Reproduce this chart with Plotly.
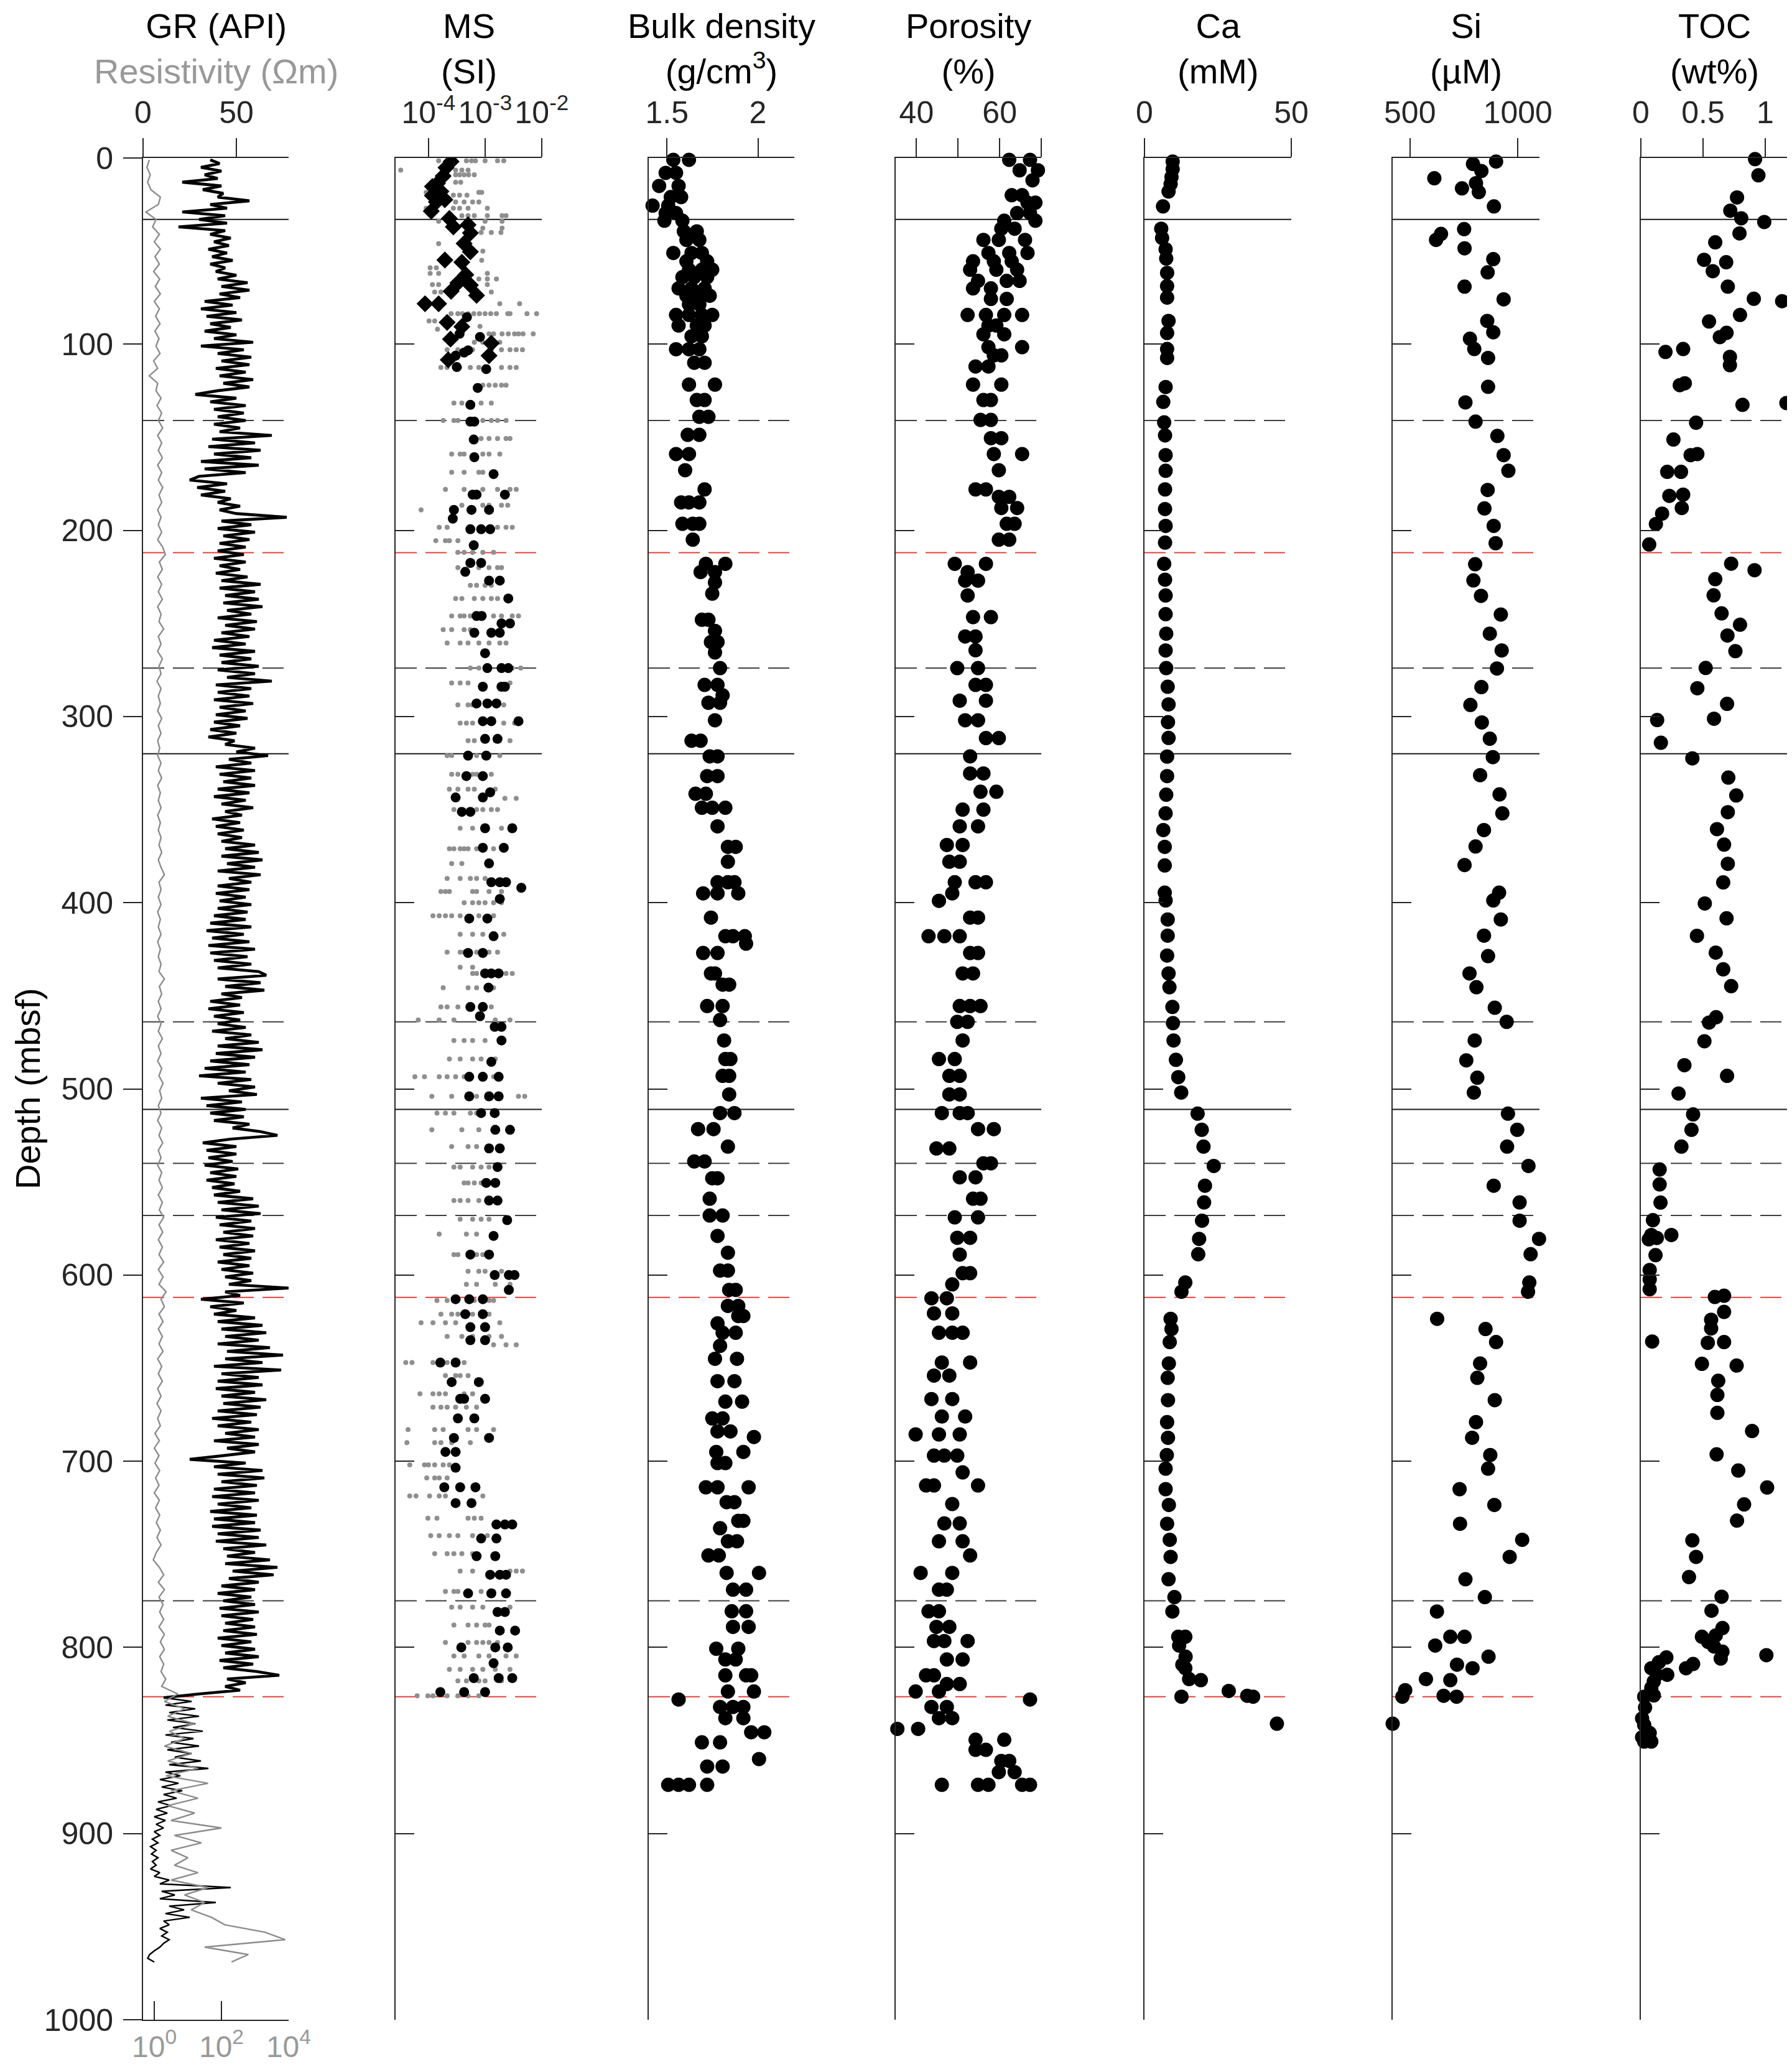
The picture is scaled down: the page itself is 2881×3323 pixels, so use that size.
import plotly.graph_objects as go

W, H = 2881, 3323
FONT = "Liberation Sans, Arial, Helvetica, sans-serif"
INK = "#262626"
GREY_TXT = "#999999"

# ---------------- data ----------------
depth_ticks = [0, 100, 200, 300, 400, 500, 600, 700, 800, 900, 1000]

# boundary lines (m)
solid_lines = [33, 320, 511]
dash_lines = [141, 274, 464, 540, 568, 775]
red_lines = [212, 612, 826.5]

# GR log (API), sampled every 2 m from 1 m
gr_depth = list(range(1, 970, 2))
gr_api = [
    36, 41, 31, 42, 33, 40, 21, 42, 32, 43, 40, 57, 36, 45, 21,
    44, 30, 45, 19, 44, 36, 47, 38, 46, 35, 45, 37, 48, 36, 44,
    39, 50, 40, 56, 42, 57, 41, 52, 33, 48, 31, 50, 34, 53, 36,
    47, 33, 50, 38, 59, 31, 54, 40, 58, 42, 57, 39, 55, 41, 59,
    43, 57, 40, 28, 50, 36, 55, 38, 54, 40, 55, 38, 52, 41, 69,
    37, 60, 35, 63, 38, 58, 31, 62, 33, 55, 30, 25, 45, 29, 44,
    31, 47, 40, 52, 41, 50, 77, 42, 58, 40, 60, 43, 57, 41, 55,
    40, 54, 38, 55, 41, 52, 39, 56, 42, 63, 41, 60, 44, 62, 43,
    64, 45, 58, 40, 61, 44, 60, 42, 57, 38, 55, 37, 60, 41, 58,
    42, 62, 40, 60, 45, 69, 39, 58, 40, 57, 38, 59, 41, 55, 39,
    56, 38, 52, 36, 50, 35, 49, 44, 60, 50, 67, 46, 58, 39, 60,
    41, 58, 43, 60, 40, 57, 38, 55, 42, 59, 44, 53, 37, 52, 39,
    54, 40, 53, 42, 60, 44, 62, 42, 64, 45, 60, 40, 63, 46, 58,
    40, 57, 39, 55, 41, 58, 40, 56, 38, 55, 36, 58, 34, 54, 37,
    57, 35, 60, 36, 56, 38, 58, 40, 62, 66, 40, 63, 44, 65, 42,
    53, 36, 52, 35, 54, 38, 52, 40, 55, 37, 58, 44, 62, 40, 64,
    39, 60, 36, 57, 33, 55, 30, 58, 40, 60, 46, 61, 31, 53, 34,
    55, 36, 54, 38, 57, 48, 63, 72, 47, 32, 50, 34, 50, 35, 48,
    33, 51, 36, 50, 34, 49, 37, 52, 38, 59, 40, 62, 42, 63, 39,
    58, 41, 60, 43, 59, 39, 57, 41, 60, 43, 58, 40, 57, 42, 59,
    44, 58, 46, 78, 44, 52, 31, 54, 36, 50, 38, 60, 40, 64, 42,
    66, 44, 62, 40, 68, 45, 75, 44, 64, 38, 74, 42, 62, 40, 64,
    39, 60, 42, 66, 43, 63, 40, 61, 37, 58, 40, 62, 44, 60, 38,
    62, 45, 60, 43, 25, 55, 38, 64, 40, 65, 42, 61, 38, 60, 37,
    62, 40, 58, 36, 61, 38, 60, 37, 63, 40, 62, 39, 66, 43, 60,
    45, 68, 44, 72, 48, 70, 46, 62, 42, 60, 40, 58, 43, 60, 41,
    62, 42, 59, 44, 60, 43, 61, 40, 58, 42, 60, 44, 62, 41, 59,
    43, 61, 73, 45, 55, 44, 52, 30, 11, 26, 12, 28, 14, 30, 13,
    28, 16, 32, 12, 27, 15, 30, 13, 26, 17, 31, 14, 35, 12, 20,
    9, 19, 10, 21, 11, 18, 8, 15, 7, 13, 6, 12, 7, 11, 6,
    9, 5, 8, 4, 7, 4.5, 8, 5, 7, 4, 9, 6, 14, 9, 47,
    10, 17, 9, 39, 14, 22, 12, 25, 11, 14, 9, 13, 10, 14, 11,
    9, 6, 3.5, 2.5, 6,
]
gr_lith_change_depth = 825  # base of the dense upper log section

# Resistivity log10(Ohm m), sampled every 4 m from 1 m
res_depth = list(range(1, 970, 4))
res_log10 = [
    -0.15, -0.22, -0.12, -0.20, -0.10, 0.18, 0.12, -0.25, 0.05, -0.05,
    0.15, 0.00, 0.18, 0.02, 0.15, -0.02, 0.16, 0.03, 0.18, 0.00,
    0.15, 0.04, 0.17, 0.02, 0.14, 0.05, 0.17, -0.02, 0.10, -0.15,
    0.10, 0.05, 0.20, 0.08, 0.22, 0.12, 0.25, 0.10, 0.22, 0.12,
    0.24, 0.10, 0.22, 0.12, 0.25, 0.14, 0.22, 0.10, 0.20, 0.12,
    0.22, 0.10, 0.25, 0.33, 0.15, 0.24, 0.10, 0.22, 0.12, 0.24,
    0.10, 0.20, 0.14, 0.28, 0.12, 0.20, 0.10, 0.24, 0.14, 0.20,
    0.08, 0.20, 0.12, 0.18, 0.10, 0.22, 0.12, 0.20, 0.10, 0.16,
    0.10, 0.20, 0.12, 0.22, 0.10, 0.18, 0.12, 0.20, 0.10, 0.18,
    0.12, 0.20, 0.14, 0.22, 0.12, 0.20, 0.30, 0.14, 0.20, 0.12,
    0.20, 0.10, 0.18, 0.12, 0.20, 0.10, 0.18, 0.12, 0.20, 0.14,
    0.30, 0.15, 0.22, 0.12, 0.20, 0.10, 0.20, 0.12, 0.24, 0.12,
    0.20, 0.10, 0.22, 0.14, 0.26, 0.16, 0.22, 0.12, 0.20, 0.10,
    0.22, 0.14, 0.25, 0.12, 0.20, 0.10, 0.22, 0.14, 0.24, 0.12,
    0.24, 0.15, 0.28, 0.14, 0.25, 0.12, 0.24, 0.14, 0.28, 0.12,
    0.26, 0.14, 0.35, 0.20, 0.30, 0.14, 0.26, 0.12, 0.24, 0.14,
    0.26, 0.10, 0.22, 0.12, 0.24, 0.10, 0.20, 0.08, 0.20, 0.10,
    0.18, 0.02, 0.15, 0.00, 0.14, 0.02, 0.16, 0.04, 0.14, 0.00,
    0.15, 0.04, 0.16, 0.06, 0.18, 0.08, 0.20, 0.06, -0.03, 0.15,
    0.28, 0.12, 0.30, 0.14, 0.26, 0.16, 0.28, 0.14, 0.30, 0.18,
    0.30, 0.16, 0.28, 0.20, 0.34, 0.22, 0.70, 0.30, 0.90, 0.40,
    1.20, 0.45, 0.90, 0.30, 1.10, 0.40, 1.30, 0.35, 1.60, 0.50,
    1.30, 0.40, 1.20, 0.50, 2.00, 0.60, 1.40, 0.50, 1.00, 0.60,
    1.30, 0.50, 1.60, 0.90, 1.50, 1.10, 1.70, 2.10, 3.30, 3.90,
    1.50, 2.80, 2.30,
]

# MS discrete samples: (depth m, log10 SI)
ms_diamonds = [
    (1.9, -3.60), (5.2, -3.69), (9.7, -3.74), (13.6, -3.84), (15.3, -3.93), (18, -3.78),
    (20.2, -3.93), (22.4, -3.71), (23.6, -3.86), (28.6, -3.95), (32.5, -3.63), (37, -3.56),
    (35.9, -3.30), (40.3, -3.26), (45.9, -3.37), (50.4, -3.26), (54.8, -3.71), (56, -3.41),
    (62.7, -3.34), (67.1, -3.48), (68.3, -3.26), (73.8, -3.15), (71.6, -3.60), (78.3, -4.06),
    (78.3, -3.82), (88.3, -3.67), (90.6, -3.41), (97.3, -3.61), (99.5, -2.89), (106.2, -2.93),
    (108.4, -3.65),
]
ms_circles = [
    (85.5, -3.32), (94.4, -3.45), (96.1, -3.09), (103.3, -3.30), (104.5, -3.37), (106.2, -3.52),
    (112.3, -3.50), (113.4, -2.98), (123.5, -3.13), (132.6, -3.26), (141.6, -3.26), (141.6, -3.19),
    (151.2, -3.20), (160.7, -3.19), (169.8, -2.85), (180.8, -3.22), (180.8, -3.15), (180.8, -2.65),
    (189, -3.55), (189, -3.24), (189, -2.93), (193.7, -3.57), (199.4, -3.26), (199.4, -3.07),
    (199.4, -2.91), (208, -3.20), (217.5, -3.26), (217.5, -3.07), (222.3, -3.35), (227, -2.93),
    (227, -2.74), (236.6, -2.59), (246, -3.15), (246, -3.06), (250, -2.71), (250, -2.56),
    (255, -3.19), (255, -2.89), (255, -2.74), (266, -3.00), (274, -2.96), (274, -2.71),
    (274, -2.59), (284, -3.04), (284, -2.71), (284, -2.65), (293, -3.15), (293, -2.96),
    (293, -2.80), (302.5, -3.04), (302.5, -2.89), (302.5, -2.41), (312, -3.00), (312, -2.78),
    (321, -3.30), (321, -2.98), (332, -3.33), (332, -3.04), (340.7, -2.91), (343.5, -3.52),
    (343.5, -3.04), (351.2, -3.41), (351.2, -3.26), (360, -3.00), (360, -2.52), (370.5, -2.67),
    (370.5, -3.04), (378.9, -2.93), (389, -2.89), (389, -2.74), (389, -2.63), (392, -2.36),
    (398, -2.74), (408.5, -3.28), (408.5, -2.96), (418, -2.85), (427, -3.30), (427, -3.04),
    (438, -3.00), (438, -2.89), (438, -2.76), (445.6, -2.94), (456, -3.26), (456, -3.04),
    (461, -3.09), (466.7, -2.83), (466.7, -2.71), (474, -2.71), (485.5, -2.89), (493.5, -3.28),
    (493.5, -3.04), (493.5, -2.76), (504, -3.28), (504, -2.93), (504, -2.76), (513, -3.07),
    (513, -2.83), (522, -2.82), (522, -2.56), (532, -2.93), (532, -2.74), (542, -2.78),
    (550.5, -2.98), (550.5, -2.82), (560, -2.93), (560, -2.78), (570.5, -2.61), (579, -2.85),
    (589, -3.26), (589, -2.93), (600, -2.83), (600, -2.58), (600, -2.48), (608, -2.58),
    (613, -3.52), (613, -3.28), (613, -3.04), (621, -3.35), (621, -3.04), (628, -3.26),
    (628, -3.00), (635, -3.26), (635, -3.00), (647, -3.79), (647, -3.52), (657.5, -3.59),
    (657.5, -3.11), (666.5, -3.44), (666.5, -3.37), (666.5, -3.00), (677, -3.48), (677, -3.19),
    (687.5, -3.55), (687.5, -2.93), (695, -3.70), (695, -3.52), (703.5, -3.52), (714, -3.72),
    (714, -3.44), (714, -3.17), (722.5, -3.52), (722.5, -3.24), (734, -2.80), (734, -2.65),
    (734, -2.52), (741.5, -3.07), (741.5, -2.80), (751, -3.15), (751, -2.82), (761, -2.91),
    (761, -2.74), (761, -2.63), (771, -3.30), (771, -2.89), (771, -2.63), (781, -2.78),
    (781, -2.65), (791, -2.74), (791, -2.47), (800, -3.42), (800, -2.82), (800, -2.60),
    (808.5, -2.85), (816.5, -3.20), (816.5, -2.52), (816.5, -2.76), (824, -3.79), (824, -3.37),
    (824, -3.00),
]
# MS high-resolution (grey) rows: (depth m, [log10 SI values])
ms_grey_rows = [
    (1.5, [-3.82, -3.56, -3.33, -3.24, -3.17, -3.00, -2.78, -2.67]),
    (6.5, [-4.49, -3.52, -3.41, -3.30]),
    (9, [-3.52, -3.45, -3.37, -3.29, -3.19]),
    (13, [-3.52, -3.43]),
    (18.5, [-4.04, -3.11, -3.06]),
    (20, [-3.56, -3.45, -3.32]),
    (23.6, [-3.52, -3.37, -3.22, -3.11]),
    (27, [-4.04, -3.56, -3.45, -3.30, -2.96]),
    (31, [-3.41, -3.30, -3.19, -2.96, -2.70, -2.63]),
    (34, [-3.82, -3.00, -2.70]),
    (37.7, [-3.04, -2.70]),
    (40, [-3.07, -2.89, -2.72]),
    (46, [-3.82]),
    (50, [-3.33, -3.19, -3.04]),
    (55, [-3.06]),
    (59, [-3.97, -3.86]),
    (62, [-3.97, -3.82, -2.96]),
    (65, [-3.11, -2.96, -2.80]),
    (68, [-3.93, -3.82, -2.96]),
    (72, [-3.89, -3.78, -2.89]),
    (78.3, [-4.00, -3.84, -2.74, -2.39]),
    (83.6, [-3.60, -3.48, -3.40, -3.30, -3.20, -3.10, -3.00, -2.90, -2.80, -2.60, -2.56, -2.26, -2.09]),
    (87.5, [-3.99, -3.89]),
    (90.5, [-3.09]),
    (92, [-3.84]),
    (94.5, [-2.93, -2.85, -2.70, -2.59, -2.48, -2.41, -2.33, -2.15]),
    (99, [-3.19, -3.04, -2.89, -2.74]),
    (103, [-3.67, -3.48, -3.22, -2.89, -2.71, -2.56, -2.45, -2.34]),
    (112.5, [-3.78, -3.67, -3.45, -3.26, -3.11, -2.71, -2.56, -2.45]),
    (122, [-3.04, -2.93, -2.82, -2.71, -2.63]),
    (131.6, [-3.55, -3.41, -3.07, -2.89]),
    (141, [-3.74, -3.55, -3.48, -3.04, -2.89, -2.78, -2.63]),
    (150.7, [-3.07, -2.93, -2.78, -2.63, -2.56]),
    (159, [-3.59, -3.44, -3.37, -3.04, -2.93, -2.74]),
    (168.8, [-3.59, -3.37, -3.11, -3.04]),
    (178, [-3.70, -3.37, -3.04, -2.78, -2.56, -2.45]),
    (186.5, [-3.41, -3.04, -2.93, -2.71, -2.60]),
    (189, [-4.13]),
    (198.4, [-3.81, -3.67, -2.78, -2.63, -2.52]),
    (205.6, [-3.87, -3.70, -3.63, -3.48]),
    (211.8, [-3.48, -3.37, -3.22, -3.04, -2.85]),
    (220, [-3.48, -3.11, -2.93, -2.78, -2.71]),
    (229.5, [-3.26, -3.15, -3.00, -2.89]),
    (236.6, [-3.52, -3.41, -3.19, -3.04, -2.89, -2.78]),
    (246, [-3.59, -3.44, -3.37, -3.26, -2.85, -2.71, -2.52, -2.41]),
    (253.3, [-3.74, -3.59, -3.37, -3.26]),
    (260.5, [-3.67, -3.44, -3.30, -3.11, -2.93, -2.74, -2.63]),
    (274, [-3.26, -3.11, -2.52, -2.37]),
    (282, [-3.59, -3.44, -3.30, -2.56]),
    (293.8, [-3.48, -3.30, -3.22, -2.67]),
    (303.5, [-3.44, -3.33, -3.22, -2.67, -2.48]),
    (313, [-3.30, -3.19, -2.82, -2.56]),
    (321, [-3.67, -3.59, -3.15, -2.93, -2.74]),
    (331, [-3.59, -3.48, -3.22, -3.15, -2.89]),
    (339, [-3.63, -3.48, -3.30, -3.19, -2.82]),
    (344, [-2.65, -2.45]),
    (350, [-3.55, -3.44, -3.15, -3.04, -2.89, -2.78]),
    (360, [-3.44, -3.22, -3.04, -2.71]),
    (371, [-3.63, -3.55, -3.44, -3.37, -3.30, -3.15, -2.85]),
    (379, [-3.59, -3.41]),
    (387, [-3.67, -3.44, -3.26, -3.15, -3.00]),
    (394, [-3.78, -3.70, -3.63, -3.22, -3.15, -2.93, -2.71]),
    (400, [-3.37, -3.22, -3.11, -3.00, -2.85, -2.71]),
    (407, [-3.92, -3.81, -3.70, -3.59, -3.44, -3.11, -2.85]),
    (417, [-3.44, -3.22, -3.04, -2.85, -2.67]),
    (426.6, [-3.67, -3.44, -3.37, -3.15, -2.93, -2.78]),
    (434.7, [-3.44, -3.22]),
    (438, [-3.22, -3.15, -2.63, -2.52]),
    (445.7, [-3.74, -3.30, -3.15, -2.85]),
    (456, [-3.78, -3.67, -3.48, -3.00, -2.89]),
    (463, [-4.18, -3.81, -3.55, -2.82, -2.56]),
    (474, [-3.55, -3.37, -3.22, -3.00]),
    (484, [-3.63, -3.44, -3.22, -3.07, -2.82]),
    (493.5, [-4.24, -4.07, -3.81, -3.67, -3.52, -3.37, -2.85]),
    (504, [-3.94, -3.59, -3.15, -2.41, -2.30]),
    (513, [-3.85, -3.70, -3.55, -3.26, -3.15]),
    (522, [-3.94, -3.41, -3.11]),
    (531, [-3.59, -3.30, -3.15]),
    (542, [-3.55, -3.44, -3.22, -3.07, -2.93]),
    (550.5, [-3.37, -3.30, -3.19, -3.07]),
    (560, [-3.55, -3.44, -3.30, -3.11]),
    (570, [-3.44, -3.22, -3.07, -2.93]),
    (578, [-3.81, -3.33, -3.15]),
    (589, [-3.55, -3.48, -3.15, -3.04, -2.93]),
    (598, [-3.30, -3.11, -3.00, -2.71]),
    (605, [-3.33, -3.15, -2.82, -2.56]),
    (613.7, [-3.85, -3.67, -3.19, -2.93, -2.85]),
    (621, [-3.78, -3.59, -3.48, -3.22, -2.93]),
    (625.6, [-4.13, -3.92, -3.70, -3.52, -2.74]),
    (633, [-3.67, -3.41, -3.22, -2.93, -2.71]),
    (637.5, [-2.85, -2.63, -2.45]),
    (647, [-4.40, -4.29, -3.92, -3.67, -3.37]),
    (654, [-3.70, -3.52, -3.44, -3.30]),
    (663.8, [-4.15, -3.92, -3.81, -3.70, -3.37, -3.22]),
    (671, [-3.92, -3.78, -3.67, -3.52, -3.33, -3.15]),
    (683, [-4.36, -3.89, -3.74, -3.30, -3.15, -2.85]),
    (690, [-4.38, -3.89, -3.78, -3.59, -3.26]),
    (702, [-4.33, -4.07, -4.00, -3.89, -3.74, -3.63]),
    (709, [-4.03, -3.89, -3.81, -3.67]),
    (718.7, [-4.33, -4.22, -3.98, -3.81, -3.70, -3.04]),
    (730.6, [-4.01, -3.85, -3.30, -3.19, -3.07]),
    (740, [-3.96, -3.81, -3.63, -3.48, -3.22, -2.96]),
    (749.7, [-3.89, -3.67, -3.55, -3.41, -3.22]),
    (759, [-3.44, -3.22, -2.56, -2.45, -2.34]),
    (770, [-3.70, -3.55, -3.48, -3.07, -2.85]),
    (778.4, [-3.59, -3.44, -3.22, -3.04, -2.56]),
    (788, [-3.55, -3.30, -3.15, -3.00, -2.93]),
    (797.4, [-3.70, -3.30, -3.15, -3.04, -2.93, -2.78]),
    (804.6, [-3.55, -3.37, -3.11, -2.93, -2.63, -2.45]),
    (811.8, [-3.63, -3.44, -3.22, -3.04, -2.82, -2.56]),
    (818, [-3.48, -3.33, -3.11, -3.00, -2.71]),
    (826, [-4.20, -4.01, -3.92, -3.67, -3.48, -3.30, -3.11]),
]

# Bulk density (depth m, g/cm3)
bulk_density = [
    (1, 1.535), (1, 1.621), (8, 1.493), (8, 1.550), (15, 1.457), (15, 1.564), (21, 1.521), (21, 1.578),
    (25.6, 1.421), (25.6, 1.507), (29.6, 1.493), (29.6, 1.550), (33.7, 1.486), (33.7, 1.585),
    (39.4, 1.593), (39.4, 1.664), (44, 1.607), (44, 1.678), (51, 1.535), (51, 1.635), (51, 1.692),
    (55.5, 1.607), (55.5, 1.721), (60, 1.621), (60, 1.692), (60, 1.749), (64, 1.585), (64, 1.650),
    (64, 1.721), (70, 1.564), (70, 1.635), (70, 1.707), (74, 1.607), (74, 1.678), (74, 1.735),
    (78.6, 1.621), (78.6, 1.678), (84.3, 1.550), (84.3, 1.621), (84.3, 1.692), (84.3, 1.749),
    (90, 1.564), (90, 1.664), (90, 1.707), (95.8, 1.635), (95.8, 1.692), (102.7, 1.550),
    (102.7, 1.621), (102.7, 1.678), (110, 1.650), (110, 1.707), (121.7, 1.621), (121.7, 1.764),
    (130, 1.664), (130, 1.707), (139, 1.678), (139, 1.728), (148.7, 1.614), (148.7, 1.678),
    (159, 1.550), (159, 1.621), (167.7, 1.600), (178, 1.707), (185, 1.578), (185, 1.621),
    (185, 1.678), (196.5, 1.585), (196.5, 1.642), (196.5, 1.678), (205, 1.642), (218, 1.714),
    (218, 1.821), (222.4, 1.685), (222.4, 1.764), (228, 1.764), (234, 1.749), (248, 1.692),
    (248, 1.728), (254, 1.764), (260, 1.742), (260, 1.778), (265.6, 1.764), (274, 1.792),
    (283, 1.707), (283, 1.778), (288.6, 1.806), (292.6, 1.728), (292.6, 1.792), (302, 1.764),
    (313, 1.635), (313, 1.685), (321.4, 1.735), (321.4, 1.778), (332, 1.721), (332, 1.778),
    (341.5, 1.657), (341.5, 1.714), (349, 1.692), (349, 1.749), (349, 1.821), (359, 1.778),
    (370, 1.835), (370, 1.878), (378, 1.835), (389, 1.778), (389, 1.835), (389, 1.871),
    (395, 1.699), (395, 1.778), (395, 1.892), (408, 1.742), (418, 1.821), (418, 1.863),
    (418, 1.928), (422, 1.935), (427, 1.699), (427, 1.778), (438, 1.742), (438, 1.764),
    (444, 1.806), (444, 1.842), (455.5, 1.721), (455.5, 1.806), (463, 1.792), (474, 1.814),
    (484, 1.821), (484, 1.849), (493, 1.806), (493, 1.842), (503, 1.842), (513, 1.792),
    (513, 1.871), (521.6, 1.671), (521.6, 1.756), (531, 1.835), (539, 1.650), (539, 1.707),
    (548, 1.749), (548, 1.778), (559, 1.735), (568, 1.735), (568, 1.806), (579, 1.778),
    (588, 1.835), (597.6, 1.792), (597.6, 1.835), (608, 1.842), (608, 1.878), (616.6, 1.835),
    (616.6, 1.892), (622, 1.892), (622, 1.920), (626, 1.778), (631, 1.806), (631, 1.878),
    (638, 1.792), (645, 1.764), (645, 1.885), (657, 1.778), (657, 1.871), (668, 1.821),
    (668, 1.913), (677, 1.749), (677, 1.806), (684, 1.778), (684, 1.849), (687, 1.978),
    (695, 1.771), (695, 1.920), (701, 1.778), (701, 1.821), (714, 1.714), (714, 1.778),
    (714, 1.949), (722, 1.828), (722, 1.871), (732, 1.892), (732, 1.920), (736, 1.792),
    (743, 1.835), (743, 1.885), (750.6, 1.728), (750.6, 1.785), (760, 2.006), (760, 1.828),
    (769, 1.863), (769, 1.935), (780.6, 1.856), (780.6, 1.935), (789, 1.863), (789, 1.949),
    (800.7, 1.771), (800.7, 1.892), (806.5, 1.821), (806.5, 1.878), (815, 1.821), (815, 1.935),
    (815, 1.963), (823.7, 1.835), (823.7, 1.978), (828, 1.564), (832, 1.792), (832, 1.863),
    (832, 1.920), (838, 1.821), (838, 1.920), (845.6, 1.963), (845.6, 2.035), (851, 1.692),
    (851, 1.792), (860, 2.006), (864, 1.721), (864, 1.806), (873.8, 1.507), (873.8, 1.564),
    (873.8, 1.621), (873.8, 1.721),
]

# Porosity (depth m, %)
porosity = [
    (1, 62.3), (1, 67.3), (6.6, 64.8), (6.6, 69.2), (12, 67.9), (20, 62.9), (20, 65.4),
    (24, 66.7), (24, 68.6), (29.6, 64.2), (29.6, 67.3), (33.7, 61.1), (33.7, 68.6), (38, 60.4),
    (38, 63.6), (44, 56.1), (44, 59.8), (44, 66.1), (51, 57.3), (51, 62.3), (51, 66.7),
    (55.5, 53.6), (55.5, 58.6), (55.5, 62.9), (60, 52.9), (60, 59.2), (60, 64.2), (66, 54.8),
    (66, 61.7), (66, 64.8), (70, 53.6), (70, 57.9), (75.7, 57.9), (75.7, 61.7), (84.3, 52.3),
    (84.3, 56.7), (84.3, 61.1), (84.3, 65.4), (90, 57.3), (90, 59.2), (94.7, 56.1), (94.7, 61.1),
    (101.6, 57.3), (101.6, 65.4), (106, 58.6), (106, 60.4), (112, 54.2), (112, 57.3),
    (121.7, 53.6), (121.7, 60.4), (130, 56.1), (130, 57.9), (140.7, 55.4), (140.7, 57.9),
    (150.5, 57.9), (150.5, 60.4), (159, 58.6), (159, 65.4), (167.7, 59.8), (178, 54.2),
    (178, 56.7), (182, 59.8), (182, 62.3), (188, 60.4), (188, 64.2), (196.5, 61.7), (196.5, 63.6),
    (205, 59.8), (205, 62.3), (218, 49.2), (218, 56.7), (222.4, 52.3), (227, 51.7), (227, 54.8),
    (235, 52.3), (246.6, 53.6), (246.6, 57.9), (257, 51.7), (257, 54.2), (264.4, 54.2),
    (274, 49.8), (274, 54.8), (283, 54.2), (283, 56.7), (291.5, 50.4), (291.5, 56.7),
    (302, 51.7), (302, 54.8), (311.6, 56.7), (311.6, 59.8), (321.4, 52.9), (330.6, 52.9),
    (330.6, 56.1), (340.4, 55.4), (340.4, 59.2), (350, 51.1), (350, 56.1), (359, 50.4),
    (359, 54.8), (369, 47.3), (369, 51.1), (378, 47.9), (378, 50.4), (389, 49.2), (389, 54.2),
    (389, 56.7), (395, 48.6), (399, 45.4), (408, 52.9), (408, 54.8), (418, 42.9), (418, 46.7),
    (418, 50.4), (427, 52.9), (427, 54.8), (438, 51.1), (438, 53.6), (455.5, 50.4), (455.5, 52.9),
    (455.5, 55.4), (464, 49.8), (464, 52.3), (474, 51.1), (484, 45.4), (484, 49.2), (493, 47.9),
    (493, 50.4), (503, 47.9), (503, 50.4), (513, 46.1), (513, 50.4), (513, 52.3), (521.6, 54.8),
    (521.6, 58.6), (532, 44.8), (532, 47.9), (540, 56.1), (540, 57.9), (547.5, 50.4),
    (547.5, 54.2), (559, 53.6), (559, 55.4), (569, 49.2), (569, 54.8), (580, 49.8), (580, 52.9),
    (589, 50.4), (599, 51.1), (599, 52.9), (605, 48.6), (612.5, 43.6), (612.5, 47.3),
    (620.6, 44.2), (620.6, 48.6), (631, 45.4), (631, 48.6), (631, 51.1), (647, 46.1), (647, 52.9),
    (654, 44.2), (654, 47.9), (666.6, 43.6), (666.6, 48.6), (676, 46.1), (676, 51.7),
    (685.6, 39.8), (685.6, 45.4), (685.6, 50.4), (697, 44.2), (697, 46.7), (697, 49.8),
    (706, 51.1), (713, 42.3), (713, 44.2), (713, 54.8), (723, 48.6), (733.4, 46.7), (733.4, 50.4),
    (743, 45.4), (743, 51.1), (750.6, 52.9), (760, 41.0), (760, 48.6), (769, 45.4), (769, 47.3),
    (780.6, 42.9), (780.6, 45.4), (789, 44.8), (789, 47.9), (796.6, 44.2), (796.6, 46.7),
    (796.6, 52.3), (806.5, 47.3), (806.5, 51.1), (815, 42.3), (815, 44.2), (819.7, 47.3),
    (819.7, 50.4), (823.7, 39.8), (823.7, 45.4), (828, 67.3), (832, 43.6), (832, 47.3),
    (838, 45.4), (838, 48.6), (843.8, 35.4), (843.8, 40.4), (849.6, 54.2), (849.6, 61.1),
    (855, 54.2), (855, 56.7), (861, 60.4), (861, 62.3), (867, 59.8), (867, 63.6), (873.8, 46.1),
    (873.8, 54.8), (873.8, 57.3), (873.8, 65.4), (873.8, 67.3),
]

# Pore-water Ca (depth m, mM)
calcium = [
    (1.9, 9.6), (6, 9.6), (10.2, 9.2), (14, 8.9), (18, 8.2), (26, 6.3), (38, 5.7), (43, 6.0),
    (49, 7.2), (54, 7.4), (61.7, 7.7), (68.8, 7.7), (75, 7.7), (87.5, 8.2), (94, 7.7), (102.6, 7.7),
    (107.4, 7.7), (123, 7.2), (131, 6.4), (142, 6.7), (149, 7.0), (159.6, 7.2), (168, 7.2),
    (178, 7.0), (188.6, 7.0), (197.6, 7.2), (206.6, 7.0), (218, 6.7), (226.5, 7.0), (235, 7.2),
    (245, 7.2), (255.5, 7.4), (264.5, 7.2), (274, 7.4), (284, 7.9), (293.5, 8.2), (303, 8.0),
    (311.5, 8.2), (321.5, 7.7), (332, 7.7), (342, 7.4), (352, 7.2), (361, 6.4), (370, 6.9),
    (380, 6.9), (394.6, 6.9), (398.8, 7.2), (409, 7.9), (417.7, 7.9), (428.4, 7.7), (438, 8.2),
    (445.4, 8.5), (456, 9.5), (464.7, 9.7), (474, 9.9), (484.4, 10.7), (493.7, 11.5), (502, 12.5),
    (513.3, 18.1), (522, 19.5), (531, 20.1), (541.4, 23.6), (552, 20.6), (561, 20.3), (570.8, 19.6),
    (580.6, 18.6), (588.8, 18.3), (604, 13.9), (609, 12.6), (623.5, 8.9), (629, 9.2), (636, 8.6),
    (647.5, 8.3), (655.2, 7.9), (667.2, 8.0), (679, 7.7), (687.4, 8.0), (696.7, 7.6), (704, 7.2),
    (715, 7.2), (723.5, 8.3), (733.6, 7.7), (742.2, 8.6), (751.4, 8.9), (763.4, 8.2), (773, 10.2),
    (780.7, 9.5), (794.3, 11.5), (794.3, 13.9), (799, 11.8), (805, 14.0), (809.3, 12.9),
    (811.2, 13.9), (817, 15.2), (817.6, 19.2), (823.4, 28.7), (826, 35.0), (826.5, 37.0),
    (826.5, 12.6), (841, 45.1),
]

# Pore-water Si (depth m, uM)
silica = [
    (1.9, 899), (3.2, 792), (7, 831), (10.9, 613), (13.5, 806), (16.3, 741), (18.3, 819), (26, 889),
    (38.2, 751), (40.8, 644), (44, 621), (48.5, 753), (54.3, 886), (61.4, 860), (69.1, 753),
    (75.9, 934), (87.5, 858), (93.6, 886), (97.1, 778), (102.6, 798), (107.4, 862), (122.9, 862),
    (131.3, 757), (141.6, 804), (149.3, 905), (159.6, 934), (168, 956), (178.3, 860), (188.2, 845),
    (197.6, 888), (206.9, 897), (218.2, 802), (226.9, 794), (235.2, 829), (245.2, 921), (255.5, 870),
    (264.5, 925), (274.2, 903), (284.2, 831), (293.8, 780), (303.2, 833), (311.9, 870), (321.8, 884),
    (331.5, 825), (341.8, 915), (352, 928), (361, 843), (369.8, 804), (379.8, 753), (394.6, 913),
    (398.8, 886), (409, 921), (417.7, 843), (428.7, 862), (438, 776), (445.4, 808), (456.4, 893),
    (464, 948), (474, 800), (484.7, 761), (494, 812), (502, 796), (513.3, 954), (522, 997),
    (531, 950), (541.4, 1049), (552, 888), (561, 1008), (570.8, 1008), (580.6, 1098), (588.8, 1059),
    (604, 1053), (609, 1047), (623.5, 626), (629, 850), (636, 899), (647.5, 825), (655.2, 812),
    (667.2, 893), (679, 806), (687.4, 788), (696.7, 872), (704, 862), (715, 730), (723.5, 891),
    (733.6, 732), (742.2, 1020), (751.4, 962), (763.4, 757), (773, 847), (780.7, 625), (794.3, 687),
    (794.3, 753), (799, 617), (805, 864), (809.3, 718), (811.2, 790), (817, 574), (817.6, 687),
    (823, 478), (826.5, 465), (826, 656), (826.5, 716), (841, 420),
]

# TOC (depth m, wt%)
toc = [
    (0.6, 0.918), (9.3, 0.945), (21.2, 0.773), (28.3, 0.719), (32.4, 0.807), (34.4, 0.992),
    (40.5, 0.793), (45.3, 0.598), (54.7, 0.508), (56, 0.686), (60.8, 0.578), (69.1, 0.699),
    (75.6, 0.908), (76.9, 1.136), (84.3, 0.797), (87.8, 0.548), (93.9, 0.689), (96.2, 0.635),
    (102.6, 0.340), (104.2, 0.198), (106.8, 0.716), (111.3, 0.716), (121, 0.353), (122, 0.313),
    (132.6, 0.817), (131.6, 1.17), (142.2, 0.444), (151.2, 0.262), (159, 0.454), (159.6, 0.400),
    (168.6, 0.212), (168.6, 0.323), (180.8, 0.340), (181.5, 0.229), (188, 0.329), (191, 0.171),
    (196.6, 0.121), (207.6, 0.067), (217.9, 0.726), (221.4, 0.914), (226.2, 0.598), (234.9, 0.585),
    (244.6, 0.649), (250.7, 0.797), (256.5, 0.696), (264.9, 0.760), (273.9, 0.521), (284.8, 0.454),
    (293.2, 0.693), (301.2, 0.588), (301.9, 0.131), (314.1, 0.161), (322.5, 0.414), (332.8, 0.703),
    (342.4, 0.767), (351.4, 0.699), (360.5, 0.612), (368.8, 0.669), (379.1, 0.699), (389.1, 0.662),
    (400.4, 0.514), (408.4, 0.689), (417.8, 0.451), (426.8, 0.602), (435.8, 0.662), (444.8, 0.726),
    (461.5, 0.605), (464.4, 0.548), (474.4, 0.511), (487.3, 0.350), (493, 0.693), (502.5, 0.303),
    (513.7, 0.420), (522, 0.407), (531, 0.326), (543.3, 0.151), (551.3, 0.151), (561.1, 0.158),
    (570.5, 0.097), (578.5, 0.084), (578.5, 0.245), (580.1, 0.128), (580.8, 0.064), (589.3, 0.118),
    (597.3, 0.071), (602.4, 0.071), (607.6, 0.071), (611.8, 0.595), (611.1, 0.669), (619.8, 0.669),
    (624, 0.565), (628.7, 0.565), (635.7, 0.091), (636.4, 0.538), (636, 0.669), (647.7, 0.491),
    (648.6, 0.770), (656.8, 0.622), (664.4, 0.615), (674, 0.615), (683.8, 0.894), (696.3, 0.609),
    (705, 0.783), (714.1, 1.015), (723.2, 0.830), (731.9, 0.773), (742.5, 0.414), (751.4, 0.444),
    (762.2, 0.387), (772.8, 0.649), (780.3, 0.568), (789.6, 0.656), (794.3, 0.491), (793.6, 0.602),
    (797.1, 0.541), (799.5, 0.588), (802.3, 0.656), (806, 0.642), (804.2, 1.009), (808.9, 0.420),
    (811.2, 0.363), (805.4, 0.205), (808, 0.145), (811.2, 0.084), (814.7, 0.212), (814.7, 0.128),
    (818.3, 0.104), (821.8, 0.084), (825.8, 0.104), (826.5, 0.027), (832.3, 0.034), (838.2, 0.010),
    (841.7, 0.027), (846, 0.071), (848.3, 0.010), (850.6, 0.084), (850.6, 0.027),
]

titles_top = ["GR (API)", "MS", "Bulk density", "Porosity", "Ca", "Si", "TOC"]
titles_unit = ["Resistivity (\u03a9m)", "(SI)", "(g/cm<sup>3</sup>)", "(%)", "(mM)", "(\u00b5M)", "(wt%)"]

# ---------------- layout geometry (pixels) ----------------
panel_px = [(222, 456), (628, 863), (1035, 1269), (1432, 1666), (1832, 2068), (2231, 2467), (2630, 2866)]
top_px, bot_px = 246, 3239
ydom = [1 - bot_px / H, 1 - top_px / H]

x_specs = [
    dict(type="linear", range=[0, 78], tickvals=[0, 50], ticktext=["0", "50"]),
    dict(type="log", range=[-4.58, -1.999], tickvals=[1e-4, 1e-3, 1e-2],
         ticktext=["10<sup>-4</sup>", "10<sup>-3</sup>", "10<sup>-2</sup>"]),
    dict(type="linear", range=[1.4, 2.2], tickvals=[1.5, 2], ticktext=["1.5", "2"]),
    dict(type="linear", range=[35, 70], tickvals=[40, 60], ticktext=["40", "60"]),
    dict(type="linear", range=[0, 50], tickvals=[0, 50], ticktext=["0", "50"]),
    dict(type="linear", range=[420, 1100], tickvals=[500, 1000], ticktext=["500", "1000"]),
    dict(type="linear", range=[0, 1.18], tickvals=[0, 0.5, 1], ticktext=["0", "0.5", "1"]),
]
res_spec = dict(type="log", range=[-0.335, 4.001], tickvals=[1, 100, 10000],
                ticktext=["10<sup>0</sup>", "10<sup>2</sup>", "10<sup>4</sup>"])


def xname(k):
    return "x" if k == 1 else f"x{k}"


def yname(k):
    return "y" if k == 1 else f"y{k}"


def xkey(k):
    return "xaxis" if k == 1 else f"xaxis{k}"


def ykey(k):
    return "yaxis" if k == 1 else f"yaxis{k}"


TICKFONT = dict(size=50, color=INK, family=FONT)
common = dict(showline=True, linecolor=INK, linewidth=2, showgrid=False, zeroline=False,
              tickcolor=INK, tickwidth=2, ticklen=30, tickfont=TICKFONT, automargin=False)

layout = {}
shapes = []
annotations = []
for i, (l, r) in enumerate(panel_px):
    k = 2 * i + 1
    spec = x_specs[i]
    top = dict(common, domain=[l / W, r / W], anchor=yname(k), side="top",
               ticks="outside", ticklabelstandoff=4, **spec)
    bspec = res_spec if i == 0 else spec
    bx = dict(common, overlaying=xname(k), anchor=yname(k), side="bottom", ticks="inside",
              ticklabelstandoff=0, showticklabels=(i == 0), **bspec)
    if i == 3:  # porosity: unlabelled tick at 50
        top["minor"] = dict(ticks="outside", dtick=10, tick0=0, ticklen=30, tickwidth=2,
                            tickcolor=INK, showgrid=False)
        bx["minor"] = dict(ticks="inside", dtick=10, tick0=0, ticklen=30, tickwidth=2,
                           tickcolor=INK, showgrid=False)
    if i == 0:
        bx["tickfont"] = dict(size=48, color=GREY_TXT, family=FONT)
    layout[xkey(k)] = top
    layout[xkey(k + 1)] = bx
    layout[ykey(k)] = dict(common, domain=ydom, anchor=xname(k), side="left", range=[1000, 0],
                           tickvals=depth_ticks, ticks="outside" if i == 0 else "inside",
                           showticklabels=(i == 0), ticklabelstandoff=6)
    layout[ykey(k + 1)] = dict(common, overlaying=yname(k), anchor=xname(k), side="right",
                               range=[1000, 0], tickvals=depth_ticks, ticks="inside",
                               showticklabels=False)
    for d in solid_lines:
        shapes.append(dict(type="line", xref=f"{xname(k)} domain", yref=yname(k), x0=0, x1=1,
                           y0=d, y1=d, line=dict(color="#1a1a1a", width=2), layer="below"))
    for d in dash_lines:
        shapes.append(dict(type="line", xref=f"{xname(k)} domain", yref=yname(k), x0=0, x1=1,
                           y0=d, y1=d, line=dict(color="#404040", width=2, dash="34px,14px"),
                           layer="below"))
    for d in red_lines:
        shapes.append(dict(type="line", xref=f"{xname(k)} domain", yref=yname(k), x0=0, x1=1,
                           y0=d, y1=d, line=dict(color="#e8413c", width=2, dash="34px,14px"),
                           layer="below"))
    cx = (l + r) / 2 / W
    unit = titles_unit[i]
    if i == 0:
        unit = f"<span style='color:{GREY_TXT}'>{unit}</span>"
    annotations.append(dict(text=f"{titles_top[i]}<br>{unit}", x=cx, y=1 - 1 / H,
                            xref="paper", yref="paper", showarrow=False, xanchor="center",
                            yanchor="top", align="center", borderpad=0,
                            font=dict(size=56, color="black", family=FONT)))

annotations.append(dict(text="Depth (mbsf)", x=36 / W, y=1 - 1742 / H, xref="paper", yref="paper",
                        showarrow=False, textangle=-90, xanchor="center", yanchor="middle",
                        font=dict(size=56, color="black", family=FONT)))

fig = go.Figure()

# Panel 1: GR (dense upper section drawn heavier) + resistivity
n_up = sum(1 for d in gr_depth if d <= gr_lith_change_depth + 2)
fig.add_trace(go.Scatter(x=gr_api[:n_up], y=gr_depth[:n_up], mode="lines",
                         line=dict(color="black", width=4.6, simplify=False),
                         xaxis="x", yaxis="y"))
fig.add_trace(go.Scatter(x=gr_api[n_up - 1:], y=gr_depth[n_up - 1:], mode="lines",
                         line=dict(color="black", width=2.4, simplify=False),
                         xaxis="x", yaxis="y"))
fig.add_trace(go.Scatter(x=[10 ** v for v in res_log10], y=res_depth, mode="lines",
                         line=dict(color="#8c8c8c", width=2.4, simplify=False),
                         xaxis="x2", yaxis="y"))

# Panel 2: MS
g_d, g_v = [], []
for d, vals in ms_grey_rows:
    for v in vals:
        g_d.append(d)
        g_v.append(10 ** v)
fig.add_trace(go.Scatter(x=g_v, y=g_d, mode="markers", xaxis="x3", yaxis="y3",
                         marker=dict(color="#8f8f8f", size=8, line=dict(width=0))))
fig.add_trace(go.Scatter(x=[10 ** v for _, v in ms_circles], y=[d for d, _ in ms_circles],
                         mode="markers", xaxis="x3", yaxis="y3",
                         marker=dict(color="black", size=16, line=dict(width=0))))
fig.add_trace(go.Scatter(x=[10 ** v for _, v in ms_diamonds], y=[d for d, _ in ms_diamonds],
                         mode="markers", xaxis="x3", yaxis="y3",
                         marker=dict(color="black", size=21, symbol="diamond", line=dict(width=0))))

point_series = [(bulk_density, 5), (porosity, 7), (calcium, 9), (silica, 11), (toc, 13)]
for series, k in point_series:
    fig.add_trace(go.Scatter(x=[v for _, v in series], y=[d for d, _ in series], mode="markers",
                             xaxis=xname(k), yaxis=yname(k), cliponaxis=False,
                             marker=dict(color="black", size=23, line=dict(width=0))))

fig.update_layout(**layout)
fig.update_layout(width=W, height=H, margin=dict(l=0, r=0, t=0, b=0, pad=0),
                  paper_bgcolor="white", plot_bgcolor="white", showlegend=False,
                  shapes=shapes, annotations=annotations, font=dict(family=FONT, color=INK))

fig.write_html("out.html")
